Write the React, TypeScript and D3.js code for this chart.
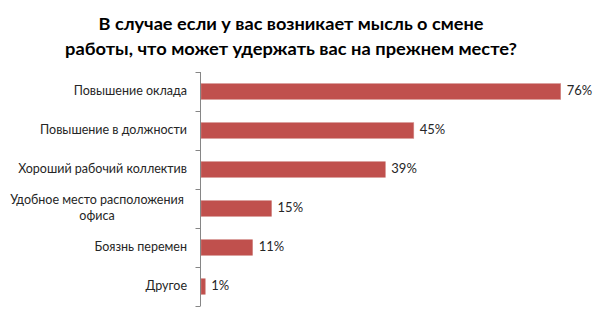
import React from "react";
import * as d3 from "d3";

const categories: string[][] = [
  ["Повышение оклада"],
  ["Повышение в должности"],
  ["Хороший рабочий  коллектив"],
  ["Удобное место расположения", "офиса"],
  ["Боязнь перемен"],
  ["Другое"],
];
const values: number[] = [76, 45, 39, 15, 11, 1];
const valueLabels: string[] = ["76%", "45%", "39%", "15%", "11%", "1%"];
const titleLines: string[] = [
  "В случае если у вас возникает мысль о смене",
  "работы, что может удержать вас на прежнем месте?",
];

const W = 600;
const H = 309;
const axisX = 200.5;
const top = 72;
const bottom = 306;
const font = "Lato, 'Open Sans', 'Noto Sans', sans-serif";

export default function App() {
  const idx = values.map((_, i) => String(i));
  const y = d3.scaleBand<string>().domain(idx).range([top, bottom]).paddingInner(0.6).paddingOuter(0.3);
  const yb = d3.scaleBand<string>().domain(idx).range([top, bottom]);
  const x = d3.scaleLinear().domain([0, 76]).range([axisX, 560.7]);
  const ticks = d3.range(values.length + 1).map((i) => top + i * yb.step());

  return (
    <svg width={W} height={H} style={{ position: "absolute", left: 0, top: 0, background: "#fff" }}>
      <g fontFamily={font} fontWeight="bold" fontSize={17} fill="#000" textAnchor="middle">
        <text x={291} y={30} textLength={385} lengthAdjust="spacingAndGlyphs">{titleLines[0]}</text>
        <text x={291} y={55} textLength={452} lengthAdjust="spacingAndGlyphs">{titleLines[1]}</text>
      </g>
      {values.map((v, i) => {
        const yy = y(String(i))!;
        return (
          <rect key={"b" + i} x={axisX + 0.5} y={yy} width={x(v) - axisX - 0.5} height={y.bandwidth()}
            fill="#C0504D" stroke="#D08784" strokeWidth={0.6} />
        );
      })}
      <line x1={axisX} x2={axisX} y1={top} y2={bottom} stroke="#868686" strokeWidth={1} />
      {ticks.map((t, i) => (
        <line key={"t" + i} x1={axisX - 5} x2={axisX} y1={Math.round(t) + 0.5} y2={Math.round(t) + 0.5} stroke="#868686" />
      ))}
      <g fontFamily={font} fontSize={12.5} fill="#262626">
        {categories.map((lines, i) => {
          const cy = yb(String(i))! + yb.bandwidth() / 2;
          const n = lines.length;
          return (
            <text key={"c" + i} x={187} y={cy} textAnchor="end" dominantBaseline="middle">
              {lines.map((l, j) => (
                <tspan key={j} x={n > 1 ? 97 : 187} textAnchor={n > 1 ? "middle" : "end"} y={cy + (j - (n - 1) / 2) * 16}>{l}</tspan>
              ))}
            </text>
          );
        })}
      </g>
      <g fontFamily={font} fontSize={13} fill="#262626">
        {values.map((v, i) => {
          const cy = yb(String(i))! + yb.bandwidth() / 2;
          return (
            <text key={"v" + i} x={x(v) + 6} y={cy + 0.5} dominantBaseline="middle">{valueLabels[i]}</text>
          );
        })}
      </g>
    </svg>
  );
}
